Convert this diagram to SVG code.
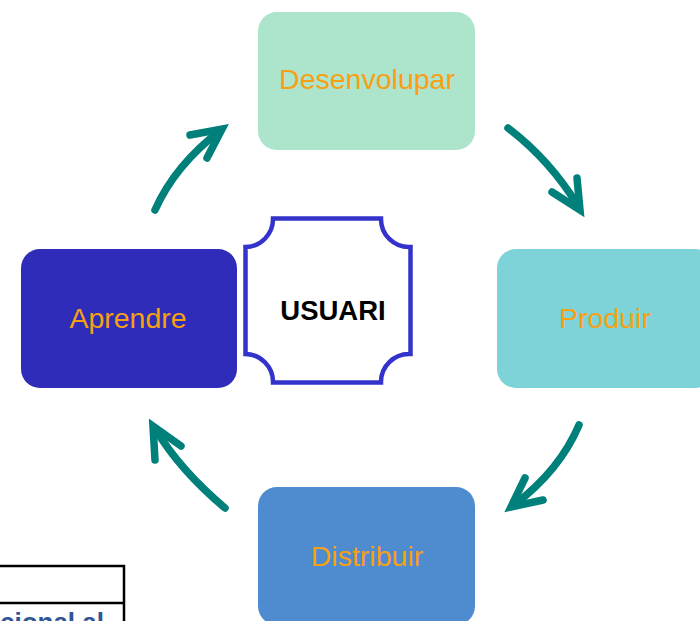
<svg xmlns="http://www.w3.org/2000/svg" width="700" height="621" viewBox="0 0 700 621">
<style>
.box text{font-family:"Liberation Sans",Arial,sans-serif;font-size:28.5px;fill:#F7A011;text-anchor:middle}
.arr path,.arr polyline{fill:none;stroke:#00807A;stroke-width:7.5;stroke-linecap:round;stroke-linejoin:miter}
</style>
<rect width="700" height="621" fill="#fff"/>
<g id="table">
<path d="M0,566 H124 V621 M0,603 H124" fill="none" stroke="#000" stroke-width="2.5"/>
<text x="104" y="631" text-anchor="end" font-family="'Liberation Sans',Arial,sans-serif" font-weight="bold" font-size="26" fill="#2F5597">cional al</text>
</g>
<g id="desenvolupar" class="box">
<rect x="258" y="12" width="217" height="138" rx="19" fill="#ADE4CC"/>
<text x="367" y="89">Desenvolupar</text>
</g>
<g id="produir" class="box">
<rect x="497" y="249" width="217" height="139" rx="19" fill="#7DD3D8"/>
<text x="605" y="328">Produir</text>
</g>
<g id="distribuir" class="box">
<rect x="258" y="487" width="217" height="138" rx="19" fill="#4E8CCF"/>
<text x="367" y="566">Distribuir</text>
</g>
<g id="aprendre" class="box">
<rect x="21" y="249" width="216" height="139" rx="19" fill="#2E2CB8"/>
<text x="128" y="328">Aprendre</text>
</g>
<g id="usuari">
<path d="M273,218.5 H381 A28,28 0 0 0 410.5,247 V354 A28,28 0 0 0 381,382.5 H273 A28,28 0 0 0 245.5,354 V247 A28,28 0 0 0 273,218.5 Z" fill="#fff" stroke="#3333CC" stroke-width="4.5"/>
<text x="333" y="320" text-anchor="middle" font-family="'Liberation Sans',Arial,sans-serif" font-weight="bold" font-size="27.5" fill="#000">USUARI</text>
</g>
<g id="connectors" class="arr">
<path d="M155,210 Q175,165 221,130"/>
<polyline points="190,135 222,129 207,158"/>
<path d="M508,128 Q550,160 578,206"/>
<polyline points="577,178 580,210 552,192"/>
<path d="M579,425 Q560,470 514,505"/>
<polyline points="525,478 511,507 543,500"/>
<path d="M225,508 Q180,470 156,430"/>
<polyline points="155,460 153,426 181,446"/>
</g>
</svg>
